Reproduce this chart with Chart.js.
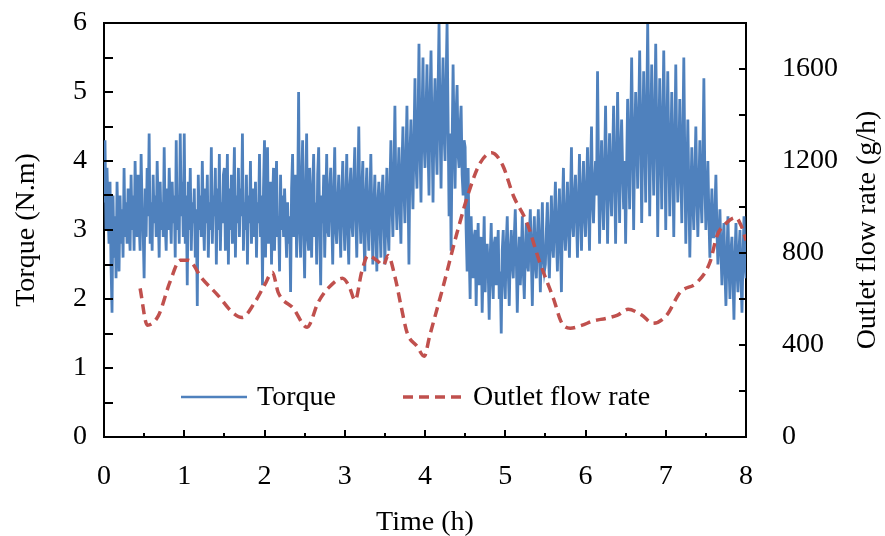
<!DOCTYPE html>
<html>
<head>
<meta charset="utf-8">
<script src="https://cdn.jsdelivr.net/npm/chart.js@4"></script>
<style>
  html, body { margin: 0; padding: 0; background: #fff; }
</style>
</head>
<body>
<canvas id="chart" width="885" height="536"></canvas>
<script>
// ── data ─────────────────────────────────────────
// torque logged every 0.0125 h (45 s), one row per quarter hour
const TORQUE_STEP = 0.0125;
const torque = [
  // 0 - 0.5 h
  3.4, 4.3, 3.0, 3.9, 3.3, 2.8, 3.7, 2.5, 1.8, 3.5, 2.6, 3.2, 2.3, 3.7, 3.0, 2.4, 3.5, 2.8, 3.3, 2.6,
  3.9, 2.9, 3.4, 2.8, 3.6, 3.1, 2.7, 3.8, 3.0, 3.5, 2.7, 4.0, 3.2, 2.9, 3.8, 3.1, 2.7, 4.1, 3.3, 3.0,
  // 0.5 - 1 h
  2.3, 3.6, 2.9, 3.9, 3.2, 4.4, 2.8, 3.4, 2.7, 3.8, 3.1, 3.5, 2.9, 4.0, 3.3, 2.6, 3.7, 3.0, 3.4, 2.9,
  4.2, 3.1, 2.7, 3.6, 3.0, 3.9, 3.3, 2.8, 3.7, 3.1, 3.5, 2.6, 4.3, 3.0, 3.5, 2.8, 4.4, 3.2, 3.7, 2.9,
  // 1 - 1.5 h
  4.4, 2.8, 3.5, 2.2, 3.7, 3.0, 3.9, 2.7, 3.4, 3.1, 3.6, 2.6, 3.3, 1.9, 3.8, 3.0, 3.5, 2.9, 4.0, 3.2,
  2.7, 3.6, 3.1, 3.8, 2.6, 3.4, 3.0, 4.2, 2.8, 3.5, 3.2, 3.9, 2.5, 3.6, 3.0, 4.1, 2.7, 3.4, 3.1, 3.8,
  // 1.5 - 2 h
  3.9, 2.7, 3.3, 4.1, 2.5, 3.6, 3.0, 3.8, 2.8, 3.4, 4.2, 2.6, 3.5, 3.1, 3.9, 2.9, 3.6, 3.2, 4.4, 2.7,
  3.4, 3.0, 3.8, 2.5, 3.5, 3.1, 4.0, 2.8, 3.3, 3.6, 2.9, 3.7, 2.6, 3.4, 3.1, 4.1, 2.9, 3.5, 2.2, 3.6,
  // 2 - 2.5 h
  4.3, 2.6, 3.5, 4.2, 2.8, 3.3, 3.7, 2.5, 3.4, 3.9, 2.7, 3.5, 4.0, 2.9, 3.2, 2.4, 3.8, 3.0, 3.5, 2.9,
  3.6, 3.1, 2.6, 3.4, 2.8, 3.2, 2.1, 3.6, 4.1, 2.9, 3.4, 3.8, 2.6, 3.3, 5.0, 3.1, 2.6, 3.7, 4.3, 3.0,
  // 2.5 - 3 h
  2.3, 3.5, 4.4, 2.9, 2.7, 3.9, 3.2, 2.6, 3.6, 4.1, 2.9, 3.4, 2.5, 3.8, 4.2, 3.0, 2.2, 3.5, 3.1, 3.8,
  2.6, 3.3, 4.1, 3.0, 2.9, 3.6, 3.9, 3.2, 2.5, 3.5, 4.2, 3.0, 2.8, 3.4, 3.8, 3.1, 2.6, 3.5, 4.0, 3.2,
  // 3 - 3.5 h
  2.7, 3.4, 4.1, 3.0, 2.5, 3.6, 3.9, 3.1, 2.9, 3.7, 4.2, 3.2, 2.6, 3.5, 4.5, 3.3, 2.8, 3.6, 4.0, 3.0,
  2.4, 3.5, 3.9, 3.1, 2.7, 3.4, 4.1, 3.2, 2.5, 3.3, 3.8, 3.0, 2.4, 3.4, 3.7, 3.1, 2.6, 3.5, 3.8, 3.2,
  // 3.5 - 4 h
  2.5, 3.3, 3.9, 3.0, 2.7, 3.6, 4.3, 3.4, 2.9, 3.8, 4.8, 3.5, 3.0, 3.7, 4.2, 3.3, 2.8, 3.9, 4.5, 3.6,
  3.1, 4.0, 4.8, 3.7, 2.5, 4.1, 4.6, 3.8, 3.3, 4.3, 5.2, 4.0, 3.6, 4.5, 5.7, 4.2, 3.4, 4.6, 5.5, 4.3,
  // 4 - 4.5 h
  3.9, 4.7, 5.4, 4.2, 3.5, 4.9, 5.6, 4.4, 3.4, 4.6, 5.2, 4.3, 3.8, 5.0, 6.0, 4.5, 3.6, 4.8, 5.5, 4.4,
  4.0, 5.1, 6.0, 4.6, 3.2, 4.4, 2.7, 4.2, 5.4, 4.3, 3.6, 4.7, 5.1, 4.1, 3.9, 4.5, 4.8, 3.8, 3.5, 4.3,
  // 4.5 - 5 h
  4.2, 3.0, 2.4, 3.9, 2.7, 2.0, 3.2, 2.6, 2.3, 2.9, 3.0, 1.9, 2.7, 3.1, 2.2, 2.8, 2.9, 1.8, 2.5, 3.2,
  2.1, 2.7, 2.8, 2.4, 1.7, 2.6, 3.1, 2.3, 2.0, 2.8, 2.9, 2.2, 2.6, 3.0, 2.0, 2.4, 1.5, 2.7, 3.0, 2.3,
  // 5 - 5.5 h
  2.0, 2.8, 3.2, 2.4, 1.9, 2.7, 3.0, 2.5, 2.3, 2.9, 3.3, 2.6, 1.8, 2.5, 2.9, 2.2, 2.6, 3.2, 2.4, 2.0,
  2.7, 3.1, 2.5, 2.4, 2.9, 3.3, 2.6, 1.9, 2.8, 3.2, 2.5, 2.3, 2.9, 3.3, 2.7, 2.1, 2.8, 3.4, 2.6, 2.4,
  // 5.5 - 6 h
  2.5, 3.0, 3.4, 2.7, 2.3, 2.9, 3.5, 2.8, 2.6, 3.2, 3.7, 2.9, 2.4, 3.1, 3.6, 2.8, 2.1, 3.3, 3.9, 3.0,
  2.7, 3.2, 3.7, 3.0, 2.6, 3.4, 4.2, 3.1, 2.9, 3.5, 3.8, 3.2, 2.6, 3.4, 4.1, 3.3, 2.7, 3.5, 4.0, 3.2,
  // 6 - 6.5 h
  2.9, 3.6, 4.2, 3.3, 2.7, 3.8, 4.5, 3.4, 3.1, 3.7, 4.0, 3.5, 5.3, 3.9, 2.8, 3.6, 4.3, 3.5, 3.0, 3.9,
  4.8, 3.7, 2.8, 3.8, 4.4, 3.6, 3.2, 4.0, 4.8, 3.8, 2.8, 3.9, 5.0, 4.0, 3.1, 4.1, 4.6, 3.9, 3.3, 4.0,
  // 6.5 - 7 h
  2.8, 3.9, 4.9, 4.1, 3.3, 4.4, 5.5, 4.3, 3.0, 4.2, 5.0, 4.4, 3.6, 4.6, 5.6, 4.5, 3.1, 4.3, 5.3, 4.4,
  3.4, 4.7, 6.0, 4.6, 3.2, 4.4, 5.4, 4.3, 3.5, 4.6, 5.7, 4.5, 2.9, 4.2, 5.2, 4.3, 3.3, 4.5, 5.6, 4.4,
  // 7 - 7.5 h
  3.0, 4.3, 5.3, 4.2, 3.2, 4.1, 5.0, 4.0, 2.9, 4.2, 5.4, 4.1, 3.4, 4.0, 4.9, 3.9, 3.1, 4.3, 5.5, 4.0,
  2.8, 3.7, 4.6, 3.6, 2.6, 3.5, 4.2, 3.4, 3.0, 3.8, 4.5, 3.5, 2.9, 3.6, 4.3, 3.5, 3.1, 4.0, 5.2, 3.7,
  // 7.5 - 8 h
  3.0, 3.5, 4.0, 3.2, 2.6, 3.1, 3.6, 2.9, 2.9, 3.3, 3.8, 3.0, 2.5, 2.9, 3.3, 2.7, 2.2, 2.8, 3.1, 2.4,
  1.9, 2.6, 3.2, 2.5, 2.0, 2.7, 2.9, 2.3, 1.7, 2.6, 3.1, 2.4, 2.1, 2.7, 3.0, 2.3, 1.8, 2.6, 3.2, 2.5, 2.3
];

// outlet flow rate (g/h), sampled at irregular times (h)
const flowTime = [
  0.45, 0.54, 0.68, 0.82, 0.95, 1.05, 1.22, 1.42, 1.6, 1.72, 1.88, 2.0, 2.1, 2.17, 2.36,
  2.53, 2.67, 2.79, 2.97, 3.05, 3.13, 3.21, 3.29, 3.4, 3.48, 3.54, 3.63, 3.7, 3.78, 3.9,
  3.99, 4.06, 4.22, 4.4, 4.56, 4.69, 4.83, 4.97, 5.1, 5.27, 5.43, 5.6, 5.7, 5.81, 5.95,
  6.1, 6.26, 6.4, 6.53, 6.7, 6.84, 7.01, 7.18, 7.39, 7.55, 7.64, 7.76, 7.87, 7.95, 8.0
];
const flowRate = [
  646, 486, 529, 672, 768, 768, 690, 616, 542, 520, 586, 660, 716, 629, 559,
  477, 586, 646, 690, 659, 594, 716, 789, 768, 746, 789, 690, 572, 450, 395,
  351, 442, 646, 889, 1080, 1193, 1236, 1180, 1050, 932, 759, 603, 499, 473, 485,
  505, 516, 530, 555, 530, 494, 529, 629, 672, 759, 876, 932, 954, 910, 854
];

const xTicks = [0, 1, 2, 3, 4, 5, 6, 7, 8];
const torqueTicks = [0, 1, 2, 3, 4, 5, 6];
const flowTicks = [0, 400, 800, 1200, 1600];

const BLUE = '#4f81bd';
const RED = '#c0504d';
const FONT = '"Liberation Serif", "Times New Roman", serif';
const FONT_SIZE = 28;

const torquePoints = torque.map((v, i) => ({ x: i * TORQUE_STEP, y: v }));
const flowPoints = flowTime.map((t, i) => ({ x: t, y: flowRate[i] }));

// ── tick marks inside the frame, top border, legend, right title ──
const framePlugin = {
  id: 'frame',
  afterDraw(chart) {
    const { ctx, chartArea: a, scales } = chart;
    ctx.save();
    ctx.strokeStyle = '#000';
    ctx.lineWidth = 2;
    ctx.beginPath();
    ctx.moveTo(a.left, a.top);
    ctx.lineTo(a.right, a.top);
    ctx.stroke();

    ctx.beginPath();
    for (let v = 0; v <= 6; v += 0.5) {
      const y = Math.round(scales.y.getPixelForValue(v));
      ctx.moveTo(a.left, y);
      ctx.lineTo(a.left + 9, y);
    }
    for (let v = 0; v <= 1800; v += 200) {
      const y = Math.round(scales.y2.getPixelForValue(v));
      ctx.moveTo(a.right - 7, y);
      ctx.lineTo(a.right, y);
    }
    for (let v = 0; v <= 8; v += 0.5) {
      const x = Math.round(scales.x.getPixelForValue(v));
      const len = v % 1 === 0 ? 7 : 4;
      ctx.moveTo(x, a.bottom);
      ctx.lineTo(x, a.bottom - len);
    }
    ctx.stroke();

    // legend
    const ly = a.bottom - 40;
    ctx.font = FONT_SIZE + 'px ' + FONT;
    ctx.fillStyle = '#000';
    ctx.textBaseline = 'middle';
    ctx.textAlign = 'left';

    ctx.strokeStyle = BLUE;
    ctx.lineWidth = 2.5;
    ctx.beginPath();
    ctx.moveTo(181, ly);
    ctx.lineTo(247, ly);
    ctx.stroke();
    ctx.fillText('Torque', 257, ly + 1);

    ctx.strokeStyle = RED;
    ctx.lineWidth = 3.5;
    ctx.setLineDash([10, 6]);
    ctx.beginPath();
    ctx.moveTo(403, ly);
    ctx.lineTo(463, ly);
    ctx.stroke();
    ctx.setLineDash([]);
    ctx.fillText('Outlet flow rate', 473, ly + 1);

    // right axis title, reading upwards
    ctx.translate(868, (a.top + a.bottom) / 2);
    ctx.rotate(-Math.PI / 2);
    ctx.textAlign = 'center';
    ctx.fillText('Outlet flow rate (g/h)', 0, 0);
    ctx.restore();
  }
};

const tickFont = { family: FONT, size: FONT_SIZE };
const plainNumber = v => String(v);

new Chart(document.getElementById('chart'), {
  type: 'line',
  data: {
    datasets: [
      {
        label: 'Outlet flow rate',
        data: flowPoints,
        yAxisID: 'y2',
        borderColor: RED,
        borderWidth: 3.5,
        borderDash: [10, 6],
        cubicInterpolationMode: 'monotone',
        pointRadius: 0,
        order: 0
      },
      {
        label: 'Torque',
        data: torquePoints,
        yAxisID: 'y',
        borderColor: BLUE,
        borderWidth: 2.8,
        borderJoinStyle: 'miter',
        tension: 0,
        pointRadius: 0,
        order: 1
      }
    ]
  },
  options: {
    responsive: false,
    animation: false,
    events: [],
    layout: { padding: { top: 23, left: 0, right: 0, bottom: 0 } },
    plugins: { legend: { display: false }, tooltip: { enabled: false } },
    scales: {
      x: {
        type: 'linear',
        min: 0,
        max: 8,
        afterBuildTicks: s => { s.ticks = xTicks.map(v => ({ value: v })); },
        afterFit: s => { s.height = 99; s.paddingLeft = 0; s.paddingRight = 0; },
        grid: { display: false },
        border: { display: true, color: '#000', width: 2 },
        ticks: { font: tickFont, color: '#000', padding: 15, maxRotation: 0, callback: plainNumber },
        title: {
          display: true,
          text: 'Time (h)',
          font: { family: FONT, size: FONT_SIZE, lineHeight: 0.93 },
          color: '#000',
          padding: 0
        }
      },
      y: {
        position: 'left',
        min: 0,
        max: 6,
        afterBuildTicks: s => { s.ticks = torqueTicks.map(v => ({ value: v })); },
        afterFit: s => { s.width = 104; s.paddingTop = 0; s.paddingBottom = 0; },
        grid: { display: false },
        border: { display: true, color: '#000', width: 2 },
        ticks: { font: tickFont, color: '#000', padding: 9, callback: plainNumber },
        title: {
          display: true,
          text: 'Torque (N.m)',
          font: { family: FONT, size: FONT_SIZE, lineHeight: 1.2 },
          color: '#000',
          padding: { top: 10, bottom: 0 }
        }
      },
      y2: {
        position: 'right',
        min: 0,
        max: 1800,
        afterBuildTicks: s => { s.ticks = flowTicks.map(v => ({ value: v })); },
        afterFit: s => { s.width = 139; s.paddingTop = 0; s.paddingBottom = 0; },
        grid: { display: false },
        border: { display: true, color: '#000', width: 2 },
        ticks: { font: tickFont, color: '#000', padding: 28, callback: plainNumber }
      }
    }
  },
  plugins: [framePlugin]
});
</script>
</body>
</html>
